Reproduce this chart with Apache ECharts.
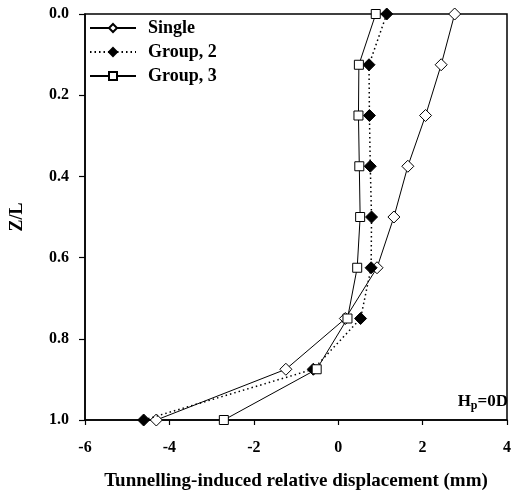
<!DOCTYPE html>
<html><head><meta charset="utf-8">
<script src="https://cdn.jsdelivr.net/npm/echarts@6/dist/echarts.min.js"></script>
<style>html,body{margin:0;padding:0;background:#fff}#c{width:514px;height:496px}</style>
</head><body><div id="c"></div>
<script>
var depth = [0, 0.125, 0.25, 0.375, 0.5, 0.625, 0.75, 0.875, 1.0];
var single = [2.76, 2.44, 2.07, 1.65, 1.32, 0.92, 0.17, -1.24, -4.31];
var group2 = [1.15, 0.73, 0.74, 0.76, 0.79, 0.78, 0.53, -0.59, -4.61];
var group3 = [0.89, 0.49, 0.48, 0.50, 0.52, 0.45, 0.22, -0.51, -2.71];
var xTicks = [-6, -4, -2, 0, 2, 4];
var yTicks = [0.0, 0.2, 0.4, 0.6, 0.8, 1.0];

function pairs(xs){ return xs.map(function(v,i){ return [v, depth[i]]; }); }
var F = 'Liberation Serif';
var chart = echarts.init(document.getElementById('c'));
chart.setOption({
  animation: false,
  textStyle: {fontFamily: F},
  grid: {left: 84, right: 4, top: 14, bottom: 76, show: true, borderColor: '#000', borderWidth: 1.5, backgroundColor: 'transparent'},
  xAxis: {
    type: 'value', min: xTicks[0], max: xTicks[xTicks.length-1], interval: 2,
    name: 'Tunnelling-induced relative displacement (mm)', nameLocation: 'middle', nameGap: 52,
    nameTextStyle: {fontFamily: F, fontWeight: 'bold', fontSize: 19, color: '#000'},
    axisLine: {show: true, onZero: false, lineStyle: {color: '#000', width: 1.5}},
    axisTick: {show: true, inside: false, length: 5, lineStyle: {color: '#000', width: 1.2}},
    axisLabel: {fontFamily: F, fontWeight: 'bold', fontSize: 16, color: '#000', margin: 20},
    splitLine: {show: false}
  },
  yAxis: {
    type: 'value', inverse: true, min: yTicks[0], max: yTicks[yTicks.length-1], interval: 0.2,
    name: 'Z/L', nameLocation: 'middle', nameGap: 59, nameRotate: 90,
    nameTextStyle: {fontFamily: F, fontWeight: 'bold', fontSize: 18, color: '#000'},
    axisLine: {show: true, onZero: false, lineStyle: {color: '#000', width: 1.5}},
    axisTick: {show: true, inside: false, length: 6, lineStyle: {color: '#000', width: 1.2}},
    axisLabel: {fontFamily: F, fontWeight: 'bold', fontSize: 16, color: '#000', margin: 16,
      formatter: function(v){ return v.toFixed(1); }},
    splitLine: {show: false}
  },
  legend: {
    left: 89, top: 19, padding: 0, orient: 'vertical', itemGap: 6, itemWidth: 46, itemHeight: 10,
    textStyle: {fontFamily: F, fontWeight: 'bold', fontSize: 18, color: '#000', padding: [0, 0, 0, 7]},
    data: ['Single', 'Group, 2', 'Group, 3']
  },
  series: [
    {name: 'Single', type: 'line', data: pairs(single), symbol: 'diamond', symbolSize: [12, 12],
     lineStyle: {color: '#000', width: 1}, itemStyle: {color: '#fff', borderColor: '#000', borderWidth: 1}, z: 2},
    {name: 'Group, 2', type: 'line', data: pairs(group2), symbol: 'diamond', symbolSize: [12, 12],
     lineStyle: {color: '#000', width: 1.5, type: [1.5, 3]}, itemStyle: {color: '#000', borderColor: '#000', borderWidth: 1}, z: 3},
    {name: 'Group, 3', type: 'line', data: pairs(group3), symbol: 'rect', symbolSize: [9, 9],
     lineStyle: {color: '#000', width: 1}, itemStyle: {color: '#fff', borderColor: '#000', borderWidth: 1}, z: 4}
  ],
  graphic: [{
    type: 'text', right: 6, top: 393,
    style: {text: '{h|H}{s|p}{h|=0D}', fontFamily: F,
      rich: {h: {fontFamily: F, fontWeight: 'bold', fontSize: 17, fill: '#000', color: '#000'},
             s: {fontFamily: F, fontWeight: 'bold', fontSize: 12, fill: '#000', color: '#000', padding: [9, 0, 0, 0]}}}
  }]
});
</script></body></html>
